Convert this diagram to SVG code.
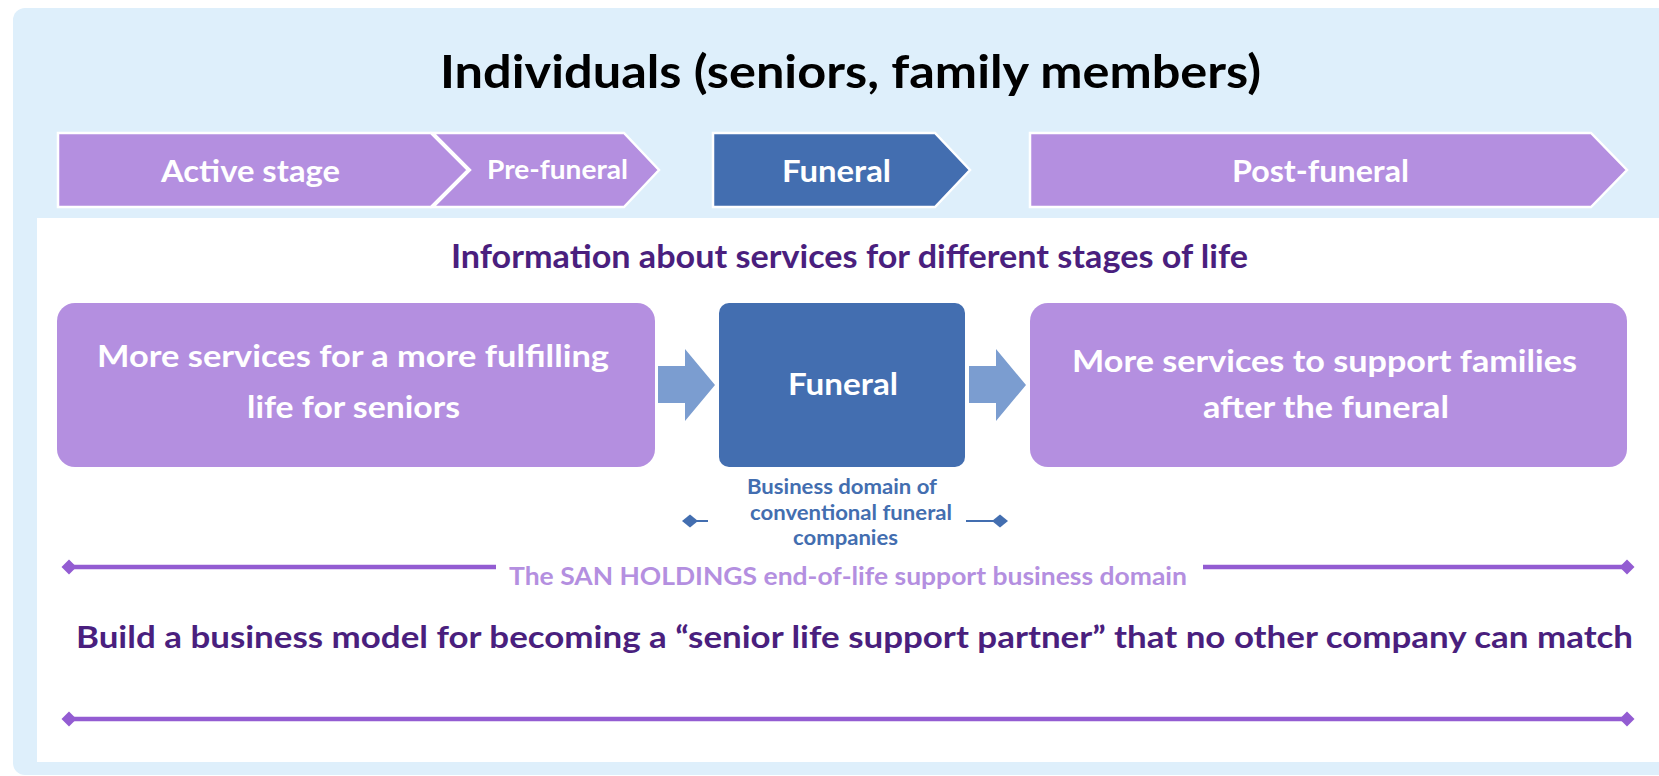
<svg xmlns="http://www.w3.org/2000/svg" width="1659" height="776" viewBox="0 0 1659 776">
<style>
text{font-family:"Lato","Noto Sans","Liberation Sans",sans-serif;font-weight:bold}
.w{fill:#ffffff}
.stage{fill:#B48FE0;stroke:#ffffff;stroke-width:2.5;stroke-linejoin:miter}
.stageB{fill:#436EB0;stroke:#ffffff;stroke-width:2.5}
.box{fill:#B48FE0}
.boxB{fill:#436EB0}
.blk{fill:#7B9DD0}
.dom{stroke:#935CD2;stroke-width:4.5;fill:none}
.cap{stroke:#436EB0;stroke-width:2;fill:none}
.dk{fill:#4A1F7E}
</style>
<defs>
<marker id="dmP" markerUnits="userSpaceOnUse" viewBox="-9 -9 18 18" markerWidth="18" markerHeight="18" refX="0" refY="0" orient="auto">
<path d="M-7.5,0 L0,-7.5 L7.5,0 L0,7.5 Z" fill="#935CD2"/>
</marker>
<marker id="dmB" markerUnits="userSpaceOnUse" viewBox="-9 -9 18 18" markerWidth="18" markerHeight="18" refX="0" refY="0" orient="auto">
<path d="M-8,0 L0,-6.5 L8,0 L0,6.5 Z" fill="#436EB0"/>
</marker>
</defs>
<rect x="0" y="0" width="1659" height="776" fill="#ffffff"/>
<rect id="outer-panel" x="13" y="8" width="1680" height="767" rx="12" fill="#DEEFFB"/>
<rect id="inner-panel" x="37" y="218" width="1622" height="544" fill="#ffffff"/>
<text id="title" x="440" y="88" font-size="46" fill="#000000" textLength="821" lengthAdjust="spacingAndGlyphs">Individuals (seniors, family members)</text>

<g id="stage-active">
<polygon class="stage" points="58,133 431,133 468,170 431,207 58,207"/>
<text class="w" x="161" y="182" font-size="30" textLength="179" lengthAdjust="spacingAndGlyphs">Active stage</text>
</g>
<g id="stage-prefuneral">
<polygon class="stage" points="433,133 624,133 659,170 624,207 433,207 470,170"/>
<text class="w" x="487" y="179" font-size="26" textLength="141" lengthAdjust="spacingAndGlyphs">Pre-funeral</text>
</g>
<g id="stage-funeral">
<polygon class="stageB" points="713,133 935,133 970,170 935,207 713,207"/>
<text class="w" x="782" y="182" font-size="30" textLength="109" lengthAdjust="spacingAndGlyphs">Funeral</text>
</g>
<g id="stage-postfuneral">
<polygon class="stage" points="1030,133 1591,133 1627,170 1591,207 1030,207"/>
<text class="w" x="1232" y="182" font-size="30" textLength="177" lengthAdjust="spacingAndGlyphs">Post-funeral</text>
</g>

<text id="info-heading" class="dk" x="451" y="268" font-size="32" textLength="797" lengthAdjust="spacingAndGlyphs">Information about services for different stages of life</text>

<g id="box-before">
<rect class="box" x="57" y="303" width="598" height="164" rx="18"/>
<text class="w" x="97" y="367" font-size="31" textLength="512" lengthAdjust="spacingAndGlyphs">More services for a more fulfilling</text>
<text class="w" x="247" y="418" font-size="31" textLength="213" lengthAdjust="spacingAndGlyphs">life for seniors</text>
</g>
<g id="box-funeral">
<rect class="boxB" x="719" y="303" width="246" height="164" rx="10"/>
<text class="w" x="788" y="395" font-size="31" textLength="110" lengthAdjust="spacingAndGlyphs">Funeral</text>
</g>
<g id="box-after">
<rect class="box" x="1030" y="303" width="597" height="164" rx="18"/>
<text class="w" x="1072" y="372" font-size="31" textLength="505" lengthAdjust="spacingAndGlyphs">More services to support families</text>
<text class="w" x="1203" y="418" font-size="31" textLength="246" lengthAdjust="spacingAndGlyphs">after the funeral</text>
</g>

<g id="caption-funeral-domain" fill="#436EB0">
<text x="747" y="494" font-size="21" textLength="190" lengthAdjust="spacingAndGlyphs">Business domain of</text>
<text x="750" y="520" font-size="21" textLength="202" lengthAdjust="spacingAndGlyphs">conventional funeral</text>
<text x="793" y="545" font-size="21" textLength="105" lengthAdjust="spacingAndGlyphs">companies</text>
</g>

<text id="san-domain-label" x="509" y="585" font-size="25" fill="#B48FE0" textLength="678" lengthAdjust="spacingAndGlyphs">The SAN HOLDINGS end-of-life support business domain</text>

<text id="goal" class="dk" x="76" y="648" font-size="31" textLength="1557" lengthAdjust="spacingAndGlyphs">Build a business model for becoming a “senior life support partner” that no other company can  match</text>

<g id="connectors">
<polygon class="blk" points="658,366 685,366 685,349 715,385 685,421 685,403 658,403"/>
<polygon class="blk" points="969,366 996,366 996,349 1026,385 996,421 996,403 969,403"/>
<path class="cap" d="M708,521 L690,521" marker-end="url(#dmB)"/>
<path class="cap" d="M966,521 L1000,521" marker-end="url(#dmB)"/>
<path class="dom" d="M496,567 L69,567" marker-end="url(#dmP)"/>
<path class="dom" d="M1203,567 L1627,567" marker-end="url(#dmP)"/>
<path class="dom" d="M69,719 L1627,719" marker-start="url(#dmP)" marker-end="url(#dmP)"/>
</g>
</svg>
